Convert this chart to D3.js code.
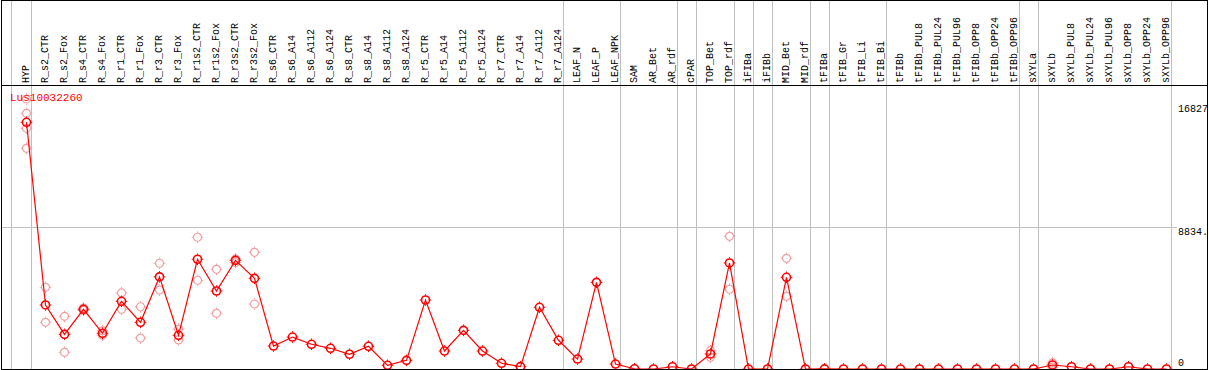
<!DOCTYPE html>
<html>
<head>
<meta charset="utf-8">
<script src="https://cdn.jsdelivr.net/npm/d3@7"></script>
<style>
  body { margin: 0; background: #fff; }
  svg text { font-family: "Liberation Mono", "DejaVu Sans Mono", monospace; font-size: 10px; }
</style>
</head>
<body>
<svg id="chart"></svg>
<script>
const geneName = "Lus10032260";

const categories = [
  "HYP", "R_s2_CTR", "R_s2_Fox", "R_s4_CTR", "R_s4_Fox", "R_r1_CTR", "R_r1_Fox",
  "R_r3_CTR", "R_r3_Fox", "R_r1s2_CTR", "R_r1s2_Fox", "R_r3s2_CTR", "R_r3s2_Fox",
  "R_s6_CTR", "R_s6_A14", "R_s6_A112", "R_s6_A124", "R_s8_CTR", "R_s8_A14",
  "R_s8_A112", "R_s8_A124", "R_r5_CTR", "R_r5_A14", "R_r5_A112", "R_r5_A124",
  "R_r7_CTR", "R_r7_A14", "R_r7_A112", "R_r7_A124", "LEAF_N", "LEAF_P", "LEAF_NPK",
  "SAM", "AR_Bet", "AR_rdf", "cPAR", "TOP_Bet", "TOP_rdf", "iFIBa", "iFIBb",
  "MID_Bet", "MID_rdf", "tFIBa", "tFIB_Gr", "tFIB_Li", "tFIB_Bi", "tFIBb",
  "tFIBb_PUL8", "tFIBb_PUL24", "tFIBb_PUL96", "tFIBb_OPP8", "tFIBb_OPP24", "tFIBb_OPP96",
  "sXYLa", "sXYLb", "sXYLb_PUL8", "sXYLb_PUL24", "sXYLb_PUL96", "sXYLb_OPP8",
  "sXYLb_OPP24", "sXYLb_OPP96"
];

// last sample of each tissue group (a grey separator is drawn after it)
const groupEnds = [
  "HYP", "R_r7_A124", "LEAF_NPK", "AR_rdf", "cPAR", "TOP_rdf", "iFIBa", "iFIBb",
  "MID_rdf", "tFIBa", "tFIB_Bi", "tFIBb_OPP96", "sXYLa", "sXYLb_OPP96"
];

const means = [
  15375, 3990, 2160, 3720, 2225, 4220, 2910, 5740, 2100, 6840, 4860, 6770, 5650,
  1430, 1990, 1540, 1290, 920, 1415, 230, 540, 4300, 1120, 2410, 1120,
  355, 145, 3845, 1790, 620, 5400, 310,
  15, 0, 140, 0, 935, 6610, 0, 0, 5715, 0,
  10, 0, 0, 0, 0, 0, 0, 0, 0, 0, 0,
  0, 250, 140, 0, 0, 140, 0, 0
];

const replicates = [
  [16827, 15935, 15000, 13754], [5090, 2910], [3280, 1040], [3800, 3650], [2380, 2100],
  [4740, 3720], [3880, 1930], [6590, 4920], [2490, 1810], [8210, 5530], [6210, 3470],
  [6850, 6630], [7270, 4050],
  [], [], [], [], [], [], [], [], [], [], [], [], [], [], [], [], [], [], [],
  [], [], [], [], [1140, 730], [8270, 4970], [], [], [6900, 4530], [],
  [], [], [], [], [], [], [], [], [], [], [],
  [], [380, 120], [], [], [], [], [], []
];

const yTicks = [16827, 8834, 0];
const yTickLabels = ["16827", "8834.", "0"];

const width = 1209, height = 370;
const headerBottom = 85.5, plotBottom = 369, right = 1207.5, left = 1.5;

const svg = d3.select("#chart").attr("width", width).attr("height", height);

const x = d3.scalePoint().domain(categories).range([26.5, 1166.5]);
const step = x.step();
const y = d3.scaleLinear().domain([0, 16827]).range([plotBottom, 99]);

svg.append("defs").append("clipPath").attr("id", "plotClip")
  .append("rect")
  .attr("x", left).attr("y", headerBottom)
  .attr("width", right - left).attr("height", plotBottom - headerBottom);

// grey separators
const seps = [x(categories[0]) - step + 3].concat(groupEnds.map(c => x(c) + 4));
svg.append("g")
  .selectAll("line")
  .data(seps)
  .join("line")
  .attr("x1", d => Math.round(d) + 0.5).attr("x2", d => Math.round(d) + 0.5)
  .attr("y1", 0).attr("y2", plotBottom)
  .attr("stroke", "#c0c0c0")
  .attr("shape-rendering", "crispEdges");

// middle horizontal gridline
svg.append("line")
  .attr("x1", left).attr("x2", 1177)
  .attr("y1", Math.round(y(yTicks[1])) + 0.5).attr("y2", Math.round(y(yTicks[1])) + 0.5)
  .attr("stroke", "#c0c0c0")
  .attr("shape-rendering", "crispEdges");

// sample labels
svg.append("g")
  .selectAll("text")
  .data(categories)
  .join("text")
  .attr("transform", d => `translate(${x(d) - 1},83) rotate(-90)`)
  .attr("dy", "0.35em")
  .attr("fill", "#000")
  .text(d => d);

// y values on the right
svg.append("g")
  .selectAll("text")
  .data(yTicks)
  .join("text")
  .attr("x", 1178)
  .attr("y", (d, i) => i === 0 ? y(d) + 13 : i === 1 ? y(d) + 8 : y(d) - 3)
  .attr("fill", "#000")
  .text((d, i) => yTickLabels[i]);

const plot = svg.append("g").attr("clip-path", "url(#plotClip)");

function glyph(g, color, sw) {
  g.append("circle").attr("r", 4).attr("fill", "none")
    .attr("stroke", color).attr("stroke-width", sw);
  [[0, -1], [0, 1], [-1, 0], [1, 0]].forEach(([dx, dy]) => {
    g.append("line")
      .attr("x1", dx * 4.5).attr("y1", dy * 4.5)
      .attr("x2", dx * 5.8).attr("y2", dy * 5.8)
      .attr("stroke", color).attr("stroke-width", 1);
  });
}

// replicate points
const repPoints = [];
replicates.forEach((arr, i) => arr.forEach(v => repPoints.push({ c: categories[i], v })));
plot.append("g")
  .selectAll("g")
  .data(repPoints)
  .join("g")
  .attr("transform", d => `translate(${x(d.c)},${y(d.v)})`)
  .each(function () { glyph(d3.select(this), "#f0a0a0", 1.2); });

// mean line
const line = d3.line().x((d, i) => x(categories[i])).y(d => y(d));
plot.append("path")
  .datum(means)
  .attr("d", line)
  .attr("fill", "none")
  .attr("stroke", "#ff0000")
  .attr("stroke-width", 1.2);

plot.append("g")
  .selectAll("g")
  .data(means)
  .join("g")
  .attr("transform", (d, i) => `translate(${x(categories[i])},${y(d)})`)
  .each(function () { glyph(d3.select(this), "#ff0000", 1.6); });

svg.append("text")
  .attr("x", 10).attr("y", 101)
  .attr("fill", "#ff0000")
  .style("font-size", "11px")
  .text(geneName);

// frame
svg.append("rect")
  .attr("x", left).attr("y", 0.5)
  .attr("width", right - left).attr("height", plotBottom - 0.5)
  .attr("fill", "none").attr("stroke", "#000")
  .attr("shape-rendering", "crispEdges");
svg.append("line")
  .attr("x1", left).attr("x2", right)
  .attr("y1", headerBottom).attr("y2", headerBottom)
  .attr("stroke", "#000")
  .attr("shape-rendering", "crispEdges");
</script>
</body>
</html>
